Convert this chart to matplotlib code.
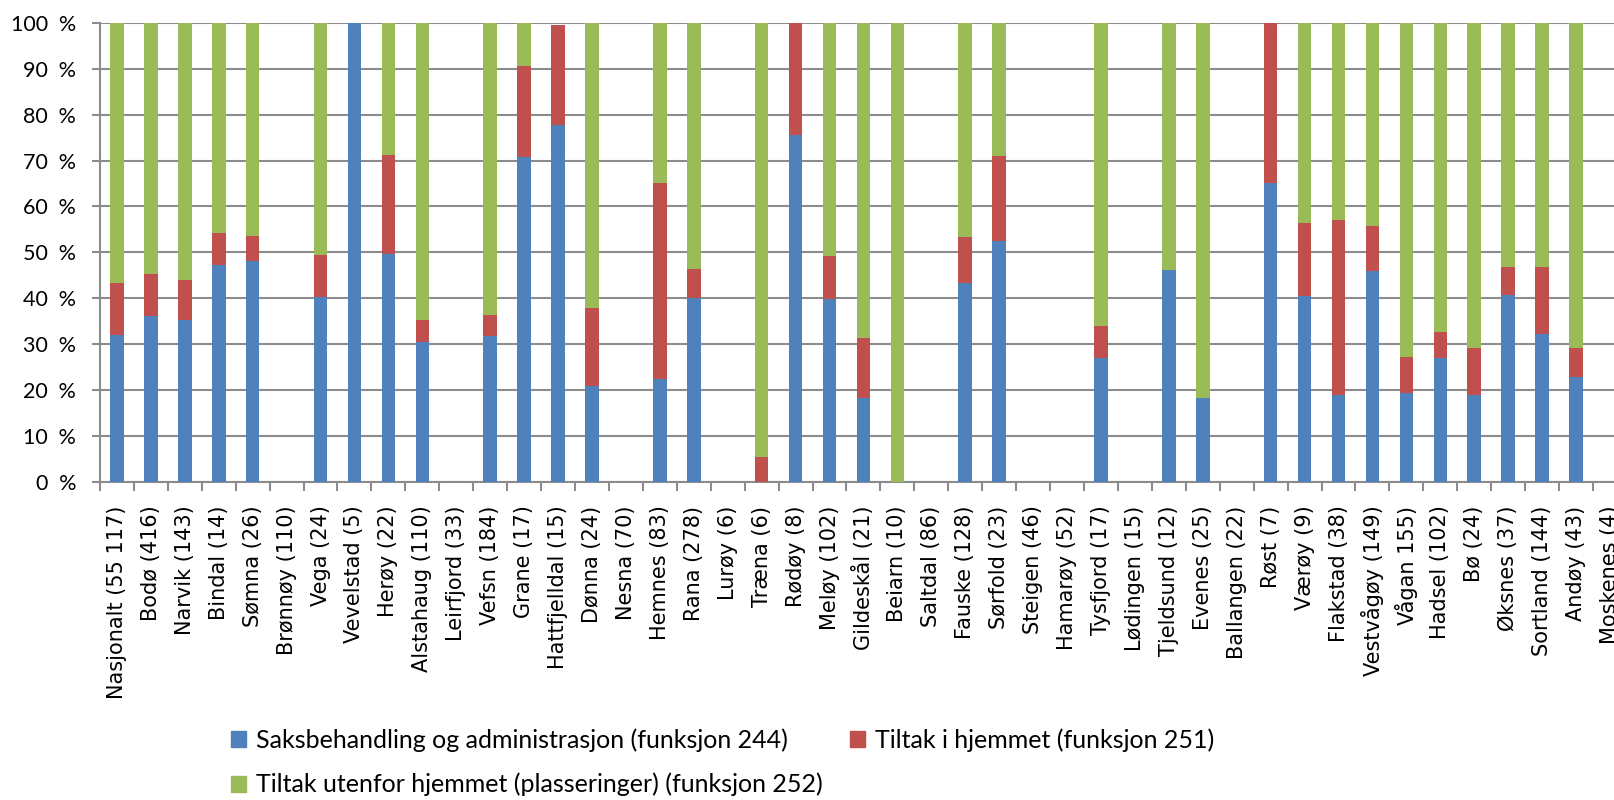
import matplotlib.pyplot as plt
from matplotlib.patches import Patch
import numpy as np

# Kommuner (antall barn) -- andel av utgifter per funksjon
kommuner = ['Nasjonalt (55 117)', 'Bodø (416)', 'Narvik (143)', 'Bindal (14)', 'Sømna (26)',
            'Brønnøy (110)', 'Vega (24)', 'Vevelstad (5)', 'Herøy (22)', 'Alstahaug (110)',
            'Leirfjord (33)', 'Vefsn (184)', 'Grane (17)', 'Hattfjelldal (15)', 'Dønna (24)',
            'Nesna (70)', 'Hemnes (83)', 'Rana (278)', 'Lurøy (6)', 'Træna (6)',
            'Rødøy (8)', 'Meløy (102)', 'Gildeskål (21)', 'Beiarn (10)', 'Saltdal (86)',
            'Fauske (128)', 'Sørfold (23)', 'Steigen (46)', 'Hamarøy (52)', 'Tysfjord (17)',
            'Lødingen (15)', 'Tjeldsund (12)', 'Evenes (25)', 'Ballangen (22)', 'Røst (7)',
            'Værøy (9)', 'Flakstad (38)', 'Vestvågøy (149)', 'Vågan 155)', 'Hadsel (102)',
            'Bø (24)', 'Øksnes (37)', 'Sortland (144)', 'Andøy (43)', 'Moskenes (4)']

saksbehandling = [32.0, 36.1, 35.3, 47.3, 48.2,
                  0, 40.3, 100, 49.6, 30.5,
                  0, 31.8, 70.8, 77.7, 20.9,
                  0, 22.5, 40.1, 0, 0,
                  75.6, 39.8, 18.2, 0, 0,
                  43.3, 52.5, 0, 0, 27.1,
                  0, 46.2, 18.2, 0, 65.2,
                  40.4, 19.0, 45.9, 19.4, 27.1,
                  19.0, 40.8, 32.3, 22.9, 0]

tiltak_hjemme = [11.3, 9.3, 8.6, 6.9, 5.3,
                 0, 9.1, 0, 21.6, 4.8,
                 0, 4.5, 19.7, 21.8, 16.9,
                 0, 42.6, 6.2, 0, 5.4,
                 24.4, 9.4, 13.1, 0, 0,
                 10.0, 18.5, 0, 0, 6.9,
                 0, 0, 0, 0, 34.8,
                 15.9, 38.1, 9.8, 7.8, 5.6,
                 10.1, 6.0, 14.5, 6.3, 0]

tiltak_utenfor = [56.7, 54.6, 56.1, 45.8, 46.5,
                  0, 50.6, 0, 28.8, 64.7,
                  0, 63.7, 9.5, -0.5, 62.2,
                  0, 34.9, 53.7, 0, 94.6,
                  0, 50.8, 68.7, 100, 0,
                  46.7, 29.0, 0, 0, 66.0,
                  0, 53.8, 81.8, 0, 0,
                  43.7, 42.9, 44.3, 72.8, 67.3,
                  70.9, 53.2, 53.2, 70.8, 0]

serier = ['Saksbehandling og administrasjon (funksjon 244)',
          'Tiltak i hjemmet (funksjon 251)',
          'Tiltak utenfor hjemmet (plasseringer) (funksjon 252)']
farger = ['#4F81BD', '#C0504D', '#9BBB59']

fig = plt.figure(figsize=(16.15, 8), dpi=100)
ax = fig.add_axes([0.0619, 0.3975, 0.9455, 0.574])

x = np.arange(len(kommuner))
pos_bunn = np.zeros(len(kommuner))
for verdier, farge in zip([saksbehandling, tiltak_hjemme, tiltak_utenfor], farger):
    v = np.array(verdier, dtype=float)
    bunn = np.where(v >= 0, pos_bunn, 0)
    ax.bar(x, v, 0.4, bottom=bunn, color=farge, linewidth=0, zorder=3)
    pos_bunn = pos_bunn + np.clip(v, 0, None)

ax.set_xlim(-0.5, len(kommuner) - 0.5)
ax.set_ylim(0, 100)
ax.set_yticks(range(0, 101, 10))
ax.set_yticklabels([f'{t}\u2002%' for t in range(0, 101, 10)], fontsize=15.5, family='Lato')
ax.yaxis.grid(True, color='#8C8C8C', linewidth=1.5, zorder=0)
ax.tick_params(axis='y', length=6, width=1.5, color='#8C8C8C', pad=11)

ax.set_xticks(x)
ax.set_xticklabels(kommuner, rotation=90, fontsize=15, family='DejaVu Sans')
ax.set_xticks(np.arange(-0.5, len(kommuner), 1), minor=True)
ax.tick_params(axis='x', which='major', length=0, pad=17)
ax.tick_params(axis='x', which='minor', length=6.5, width=1.5, color='#8C8C8C')

for side in ['top', 'right']:
    ax.spines[side].set_visible(False)
for side in ['left', 'bottom']:
    ax.spines[side].set_color('#8C8C8C')
    ax.spines[side].set_linewidth(1.5)

handles = [Patch(color=farger[0]), Patch(color=farger[2]), Patch(color=farger[1])]
labels = [serier[0], serier[2], serier[1]]
fig.legend(handles, labels, loc='upper left', bbox_to_anchor=(0.143, 0.09), ncol=2,
           frameon=False, prop={'family': 'Lato', 'size': 18}, handlelength=0.6,
           handleheight=0.6, handletextpad=0.4, labelspacing=0.85, columnspacing=1.1,
           borderpad=0, borderaxespad=0)

plt.savefig('out.png', dpi=100)
